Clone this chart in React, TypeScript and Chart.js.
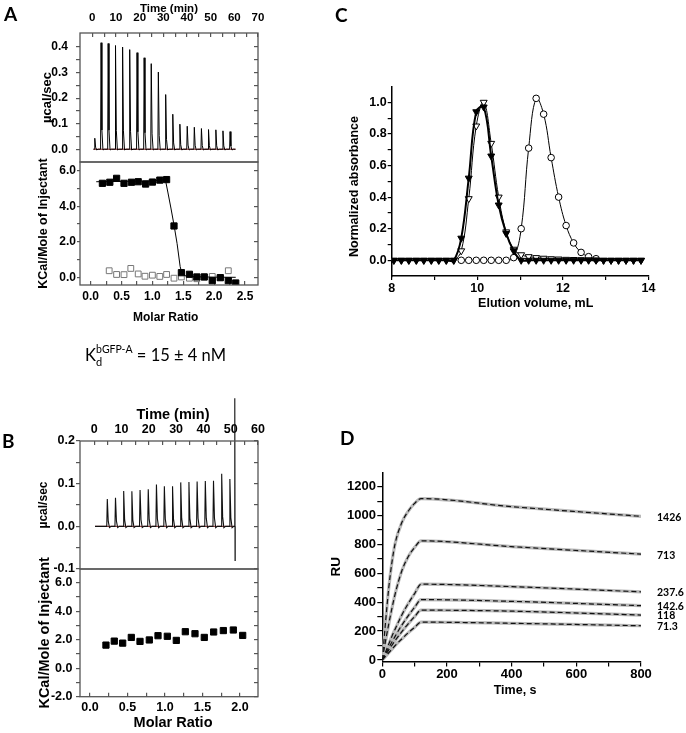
import React, { useEffect, useRef } from 'react';
import { Chart, registerables } from 'chart.js';

Chart.register(...registerables);

// ================= DATA =================
// Panel A – raw ITC trace (bGFP-A titration)
const aInjectionTime = [0.85, 3.5, 6.5, 9.6, 12.6, 15.6, 18.7, 21.7, 24.7, 27.7, 30.8, 33.8, 36.8, 39.9, 42.9, 45.9, 48.9, 52.0, 55.0, 58.0];
const aInjectionPeak = [0.043, 0.417, 0.414, 0.406, 0.4, 0.39, 0.378, 0.358, 0.335, 0.302, 0.214, 0.137, 0.098, 0.09, 0.086, 0.081, 0.077, 0.076, 0.072, 0.069];
const aTraceSpan = [0.5, 60.5];
const aTimeTicks = [0, 5, 10, 15, 20, 25, 30, 35, 40, 45, 50, 55, 60, 65, 70];
const aTimeLabels = [0, 10, 20, 30, 40, 50, 60, 70];
const aPowerTicks = [0, 0.05, 0.1, 0.15, 0.2, 0.25, 0.3, 0.35, 0.4];
const aPowerLabels = [0, 0.1, 0.2, 0.3, 0.4];

// Panel A – binding isotherm
const aRatio = [0.19, 0.31, 0.42, 0.54, 0.66, 0.77, 0.89, 1.0, 1.12, 1.23, 1.35, 1.47, 1.6, 1.72, 1.84, 1.97, 2.1, 2.23, 2.35];
const aHeat = [5.29, 5.35, 5.57, 5.29, 5.35, 5.38, 5.25, 5.36, 5.47, 5.5, 2.89, 0.26, 0.17, 0.02, 0.02, -0.19, -0.02, -0.19, -0.32];
const aControlRatio = [0.3, 0.42, 0.54, 0.65, 0.77, 0.88, 1.0, 1.12, 1.23, 1.35, 1.47, 1.6, 1.72, 1.84, 1.97, 2.1, 2.23];
const aControlHeat = [0.37, 0.16, 0.15, 0.5, 0.19, 0.06, 0.12, 0.05, 0.16, -0.05, 0.02, -0.05, -0.08, 0.02, 0.05, -0.02, 0.37];
const aFitRatio = [0.09, 0.6, 1.0, 1.15, 1.21, 1.25, 1.3, 1.35, 1.4, 1.45, 1.48, 1.55, 1.7, 2.0, 2.35];
const aFitHeat = [5.38, 5.4, 5.43, 5.47, 5.5, 4.8, 3.9, 2.95, 1.9, 0.6, 0.2, 0.06, 0.03, 0.01, 0.0];
const aRatioTicks = [0, 0.25, 0.5, 0.75, 1.0, 1.25, 1.5, 1.75, 2.0, 2.25, 2.5];
const aRatioLabels = [0, 0.5, 1.0, 1.5, 2.0, 2.5];
const aHeatTicks = [0, 1, 2, 3, 4, 5, 6];
const aHeatLabels = [0, 2, 4, 6];

// Panel B – raw ITC trace
const bInjectionTime = [4.6, 7.6, 10.6, 13.6, 16.6, 19.6, 22.6, 25.5, 28.5, 31.5, 34.5, 37.5, 40.5, 43.5, 46.5, 49.5];
const bInjectionPeak = [0.064, 0.067, 0.083, 0.082, 0.085, 0.087, 0.098, 0.094, 0.094, 0.103, 0.104, 0.105, 0.106, 0.107, 0.123, 0.111];
const bTraceSpan = [0.3, 51.45];
const bArtifactTime = [51.5, 51.6, 51.65];
const bArtifactValue = [0.3, -0.08, 0];
const bTimeTicks = [0, 5, 10, 15, 20, 25, 30, 35, 40, 45, 50, 55, 60];
const bTimeLabels = [0, 10, 20, 30, 40, 50, 60];
const bPowerTicks = [-0.1, -0.05, 0, 0.05, 0.1, 0.15, 0.2];
const bPowerLabels = [-0.1, 0, 0.1, 0.2];

// Panel B – isotherm
const bRatio = [0.213, 0.324, 0.436, 0.551, 0.667, 0.791, 0.907, 1.031, 1.151, 1.271, 1.4, 1.524, 1.649, 1.778, 1.911, 2.036];
const bHeat = [1.62, 1.9, 1.76, 2.16, 1.88, 1.98, 2.28, 2.24, 1.95, 2.56, 2.42, 2.16, 2.54, 2.64, 2.68, 2.3];
const bRatioTicks = [0, 0.25, 0.5, 0.75, 1.0, 1.25, 1.5, 1.75, 2.0];
const bRatioLabels = [0, 0.5, 1.0, 1.5, 2.0];
const bHeatTicks = [-2, -1, 0, 1, 2, 3, 4, 5, 6];
const bHeatLabels = [-2, 0, 2, 4, 6];

// Panel C – size exclusion chromatography
const cVolume = [8.05, 8.225, 8.4, 8.575, 8.75, 8.925, 9.1, 9.275, 9.45, 9.625, 9.8, 9.975, 10.15, 10.325, 10.5, 10.675, 10.85, 11.025, 11.2, 11.375, 11.55, 11.725, 11.9, 12.075, 12.25, 12.425, 12.6, 12.775, 12.95, 13.125, 13.3, 13.475, 13.65, 13.825];
const cComplex = [0, 0, 0, 0, 0, 0, 0, 0, 0, 0.14, 0.52, 0.94, 0.97, 0.66, 0.35, 0.17, 0.06, 0, 0, 0, 0, 0, 0, 0, 0, 0, 0, 0, 0, 0, 0, 0, 0, 0];
const cMixture = [0, 0, 0, 0, 0, 0, 0, 0, 0, 0.06, 0.39, 0.85, 1.0, 0.74, 0.4, 0.18, 0.07, 0.035, 0.023, 0.017, 0.013, 0.01, 0.008, 0.006, 0.005, 0.004, 0.003, 0.002, 0, 0, 0, 0, 0, 0];
const cFree: (number | null)[] = [null, null, null, null, null, null, null, null, null, 0, 0, 0, 0, 0, 0, 0, 0.017, 0.2, 0.71, 1.025, 0.925, 0.65, 0.4, 0.22, 0.11, 0.05, 0.023, 0.01, null, null, null, null, null, null];
const cVolumeTicks = [8, 9, 10, 11, 12, 13, 14];
const cVolumeLabels = [8, 10, 12, 14];
const cAbsTicks = [0, 0.1, 0.2, 0.3, 0.4, 0.5, 0.6, 0.7, 0.8, 0.9, 1.0];
const cAbsLabels = [0, 0.2, 0.4, 0.6, 0.8, 1.0];

// Panel D – SPR sensorgrams
const dTime = [0, 10, 20, 30, 40, 60, 80, 100, 120, 400, 800];
const dRU1426 = [0, 260, 500, 680, 810, 950, 1030, 1085, 1118, 1062, 995];
const dRU713 = [0, 130, 250, 360, 460, 615, 715, 780, 825, 785, 733];
const dRU237 = [0, 55, 110, 165, 215, 310, 390, 460, 525, 508, 472];
const dRU142 = [0, 43, 85, 125, 165, 240, 305, 365, 418, 406, 376];
const dRU118 = [0, 35, 70, 103, 135, 195, 250, 300, 345, 338, 311];
const dRU71 = [0, 25, 50, 75, 100, 145, 188, 226, 262, 254, 237];
const dConcLabels = ['1426', '713', '237.6', '142.6', '118', '71.3'];
const dTimeTicks = [0, 100, 200, 300, 400, 500, 600, 700, 800];
const dTimeLabels = [0, 200, 400, 600, 800];
const dRUTicks = [0, 100, 200, 300, 400, 500, 600, 700, 800, 900, 1000, 1100, 1200];
const dRULabels = [0, 200, 400, 600, 800, 1000, 1200];

// ================= HELPERS =================
const FONT = "'Liberation Sans', Arial, Helvetica, sans-serif";
const W = 686;
const H = 733;
const FRAME = '#555';

type AxisOpts = {
  position: 'top' | 'bottom' | 'left' | 'right';
  min: number;
  max: number;
  ticks: number[];
  labels: number[];
  digits: number;
  size: number;
  tickLength: number;
  padding: number;
  fontSize: number;
  color: string;
  border?: boolean;
  showLabels?: boolean;
  title?: string;
  titleSize?: number;
  titlePadding?: { top?: number; bottom?: number };
};

function linAxis(o: AxisOpts) {
  const horizontal = o.position === 'top' || o.position === 'bottom';
  return {
    type: 'linear',
    position: o.position,
    min: o.min,
    max: o.max,
    afterBuildTicks: (scale: any) => {
      scale.ticks = o.ticks.map((value) => ({ value }));
    },
    afterFit: (scale: any) => {
      if (horizontal) scale.height = o.size;
      else scale.width = o.size;
    },
    grid: { drawOnChartArea: false, drawTicks: true, tickLength: o.tickLength, color: o.color, lineWidth: 1.2 },
    border: { display: !!o.border, color: o.color, width: 1.5 },
    ticks: {
      display: o.showLabels !== false,
      autoSkip: false,
      maxRotation: 0,
      minRotation: 0,
      padding: o.padding,
      color: '#000',
      font: { family: FONT, size: o.fontSize, weight: 'bold' },
      callback: (v: any) =>
        o.labels.some((m) => Math.abs(m - Number(v)) < 1e-9) ? Number(v).toFixed(o.digits) : '',
    },
    title: o.title
      ? {
          display: true,
          text: o.title,
          color: '#000',
          font: { family: FONT, size: o.titleSize, weight: 'bold' },
          padding: o.titlePadding,
        }
      : { display: false },
  };
}

function baseOptions(padding: any, scales: any) {
  return {
    responsive: false,
    maintainAspectRatio: false,
    animation: false,
    events: [],
    layout: { padding },
    plugins: { legend: { display: false }, tooltip: { enabled: false } },
    scales,
  };
}

const framePlugin = (color: string, width: number) => ({
  id: 'frame',
  afterDatasetsDraw(chart: any) {
    const { ctx, chartArea: a } = chart;
    ctx.save();
    ctx.strokeStyle = color;
    ctx.lineWidth = width;
    ctx.strokeRect(a.left, a.top, a.right - a.left, a.bottom - a.top);
    ctx.restore();
  },
});

function itcTrace(span: number[], times: number[], peaks: number[]) {
  const pts: { x: number; y: number }[] = [{ x: span[0], y: 0 }];
  times.forEach((t, i) => {
    const h = peaks[i];
    pts.push(
      { x: t, y: 0 },
      { x: t + 0.2, y: h },
      { x: t + 0.55, y: h * 0.18 },
      { x: t + 1.0, y: -0.003 },
      { x: t + 1.6, y: 0 }
    );
  });
  pts.push({ x: span[1], y: 0 });
  return pts;
}

const xy = (xs: number[], ys: (number | null)[]) => xs.map((x, i) => ({ x, y: ys[i] }));

const rightTicks = (min: number, max: number, ticks: number[]) =>
  linAxis({ position: 'right', min, max, ticks, labels: [], digits: 0, size: 0, tickLength: -4, padding: 0, fontSize: 10, color: FRAME, showLabels: false });

const NO_CLIP = { left: false, top: false, right: false, bottom: false };

// ================= CHART BUILDERS =================
const buildATop = () => ({
  type: 'line',
  data: {
    datasets: [
      { data: itcTrace(aTraceSpan, aInjectionTime, aInjectionPeak), borderColor: '#000', borderWidth: 1, pointRadius: 0 },
      { data: xy(aTraceSpan, [0, 0]), borderColor: '#8b1a1a', borderWidth: 1, pointRadius: 0 },
    ],
  },
  options: baseOptions({ left: 0, top: 0, right: 428, bottom: 571 }, {
    x: linAxis({ position: 'top', min: -5.2, max: 70, ticks: aTimeTicks, labels: aTimeLabels, digits: 0, size: 33, tickLength: -4, padding: 12.1, fontSize: 11.5, color: FRAME, title: 'Time (min)', titleSize: 11.5, titlePadding: { top: 1.6, bottom: 0 } }),
    y: linAxis({ position: 'left', min: -0.05, max: 0.455, ticks: aPowerTicks, labels: aPowerLabels, digits: 1, size: 80, tickLength: 4, padding: 8, fontSize: 12, color: FRAME, title: 'µcal/sec', titleSize: 13, titlePadding: { top: 39.2, bottom: 0 } }),
    y2: rightTicks(-0.05, 0.455, aPowerTicks),
  }),
  plugins: [framePlugin(FRAME, 1.3)],
});

const buildABottom = () => ({
  type: 'line',
  data: {
    datasets: [
      { data: xy(aRatio, aHeat), showLine: false, pointStyle: 'rect', pointRadius: 4.4, pointBackgroundColor: '#000', pointBorderColor: '#000', pointBorderWidth: 1 },
      { data: xy(aFitRatio, aFitHeat), borderColor: '#000', borderWidth: 1, pointRadius: 0 },
      { data: xy(aControlRatio, aControlHeat), showLine: false, pointStyle: 'rect', pointRadius: 4.1, pointBackgroundColor: '#fff', pointBorderColor: '#777', pointBorderWidth: 1 },
    ],
  },
  options: baseOptions({ left: 0, top: 162, right: 428, bottom: 403 }, {
    x: linAxis({ position: 'bottom', min: -0.173, max: 2.711, ticks: aRatioTicks, labels: aRatioLabels, digits: 1, size: 45, tickLength: -4, padding: 8.5, fontSize: 12, color: FRAME, title: 'Molar Ratio  ', titleSize: 12, titlePadding: { top: 0, bottom: 4.8 } }),
    y: linAxis({ position: 'left', min: -0.433, max: 6.49, ticks: aHeatTicks, labels: aHeatLabels, digits: 1, size: 80, tickLength: 3, padding: 1, fontSize: 12, color: FRAME, title: 'KCal/Mole of Injectant', titleSize: 12.5, titlePadding: { top: 36.5, bottom: 0 } }),
    y2: rightTicks(-0.433, 6.49, aHeatTicks),
  }),
  plugins: [framePlugin(FRAME, 1.3)],
});

const buildBTop = () => ({
  type: 'line',
  data: {
    datasets: [
      {
        data: itcTrace(bTraceSpan, bInjectionTime, bInjectionPeak).concat(xy(bArtifactTime, bArtifactValue) as any),
        borderColor: '#111',
        borderWidth: 1.1,
        pointRadius: 0,
        clip: NO_CLIP,
      },
      { data: xy(bTraceSpan, [0, 0]), borderColor: '#8b1a1a', borderWidth: 1, pointRadius: 0 },
    ],
  },
  options: { ...baseOptions({ left: 0, top: 391, right: 428, bottom: 164 }, {
    x: linAxis({ position: 'top', min: -5.2, max: 60, ticks: bTimeTicks, labels: bTimeLabels, digits: 0, size: 50, tickLength: -4, padding: 7.5, fontSize: 12.5, color: FRAME, title: '  Time (min)', titleSize: 14.5, titlePadding: { top: 15.3, bottom: 0 } }),
    y: linAxis({ position: 'left', min: -0.1, max: 0.2, ticks: bPowerTicks, labels: bPowerLabels, digits: 1, size: 80, tickLength: 4, padding: 1, fontSize: 12.5, color: FRAME, title: 'µcal/sec', titleSize: 12, titlePadding: { top: 36.8, bottom: 0 } }),
    y2: rightTicks(-0.1, 0.2, bPowerTicks),
  }), clip: NO_CLIP },
  plugins: [framePlugin(FRAME, 1.3)],
});

const buildBBottom = () => ({
  type: 'line',
  data: {
    datasets: [
      { data: xy(bRatio, bHeat), showLine: false, pointStyle: 'rect', pointRadius: 4.4, pointBackgroundColor: '#000', pointBorderColor: '#000', pointBorderWidth: 1 },
    ],
  },
  options: baseOptions({ left: 0, top: 569, right: 428, bottom: 0 }, {
    x: linAxis({ position: 'bottom', min: -0.133, max: 2.24, ticks: bRatioTicks, labels: bRatioLabels, digits: 1, size: 36.3, tickLength: -4, padding: 7.1, fontSize: 12.5, color: FRAME, title: '  Molar Ratio', titleSize: 14.5, titlePadding: { top: 0, bottom: 1.3 } }),
    y: linAxis({ position: 'left', min: -2, max: 6.96, ticks: bHeatTicks, labels: bHeatLabels, digits: 1, size: 80, tickLength: 4, padding: 3.5, fontSize: 12.5, color: FRAME, title: 'KCal/Mole of Injectant', titleSize: 14.5, titlePadding: { top: 36.3, bottom: 0 } }),
    y2: rightTicks(-2, 6.96, bHeatTicks),
  }),
  plugins: [framePlugin(FRAME, 1.3)],
});

const buildC = () => ({
  type: 'line',
  data: {
    datasets: [
      { data: xy(cVolume, cComplex), borderColor: '#000', borderWidth: 2, tension: 0.4, pointStyle: 'triangle', pointRotation: 180, pointRadius: 4, pointBackgroundColor: '#000', pointBorderColor: '#000', pointBorderWidth: 1 },
      { data: xy(cVolume, cMixture), borderColor: '#000', borderWidth: 1, tension: 0.4, pointStyle: 'triangle', pointRotation: 180, pointRadius: 4, pointBackgroundColor: '#fff', pointBorderColor: '#000', pointBorderWidth: 1 },
      { data: xy(cVolume, cFree), borderColor: '#000', borderWidth: 1, tension: 0.4, pointStyle: 'circle', pointRadius: 3.3, pointBackgroundColor: '#fff', pointBorderColor: '#000', pointBorderWidth: 1 },
    ],
  },
  options: baseOptions({ left: 340, top: 86.5, right: 37.5, bottom: 416.9 }, {
    x: linAxis({ position: 'bottom', min: 8, max: 14, ticks: cVolumeTicks, labels: cVolumeLabels, digits: 0, size: 40, tickLength: 4, padding: 0.7, fontSize: 12.5, color: '#000', border: true, title: '         Elution volume, mL', titleSize: 12.5, titlePadding: { top: 0, bottom: 5.3 } }),
    y: linAxis({ position: 'left', min: -0.1, max: 1.1, ticks: cAbsTicks, labels: cAbsLabels, digits: 1, size: 51.7, tickLength: 4, padding: 1, fontSize: 12.5, color: '#000', border: true, title: 'Normalized absorbance   ', titleSize: 12.5, titlePadding: { top: 7.5, bottom: 0 } }),
  }),
});

const buildD = () => {
  const curves = [dRU1426, dRU713, dRU237, dRU142, dRU118, dRU71];
  const fits = curves.map((c) => ({ data: xy(dTime, c), borderColor: '#111', borderWidth: 1.2, borderDash: [5, 3], pointRadius: 0, cubicInterpolationMode: 'monotone' }));
  const raw = curves.map((c) => ({ data: xy(dTime, c), borderColor: '#b9b9b9', borderWidth: 3.2, pointRadius: 0, cubicInterpolationMode: 'monotone' }));
  const endLabels = {
    id: 'endLabels',
    afterDatasetsDraw(chart: any) {
      const { ctx, chartArea } = chart;
      ctx.save();
      ctx.font = "bold 10.5px Lato, 'Open Sans', sans-serif";
      ctx.fillStyle = '#000';
      ctx.textAlign = 'left';
      ctx.textBaseline = 'middle';
      dConcLabels.forEach((lab, i) => {
        const meta = chart.getDatasetMeta(i);
        const last = meta.data[meta.data.length - 1];
        ctx.fillText(lab, chartArea.right + 16, last.y + 1);
      });
      ctx.restore();
    },
  };
  return {
    type: 'line',
    data: { datasets: [...fits, ...raw] },
    options: baseOptions({ left: 325, top: 472.3, right: 45, bottom: 31.6 }, {
      x: linAxis({ position: 'bottom', min: 0, max: 800, ticks: dTimeTicks, labels: dTimeLabels, digits: 0, size: 40, tickLength: 5, padding: 0, fontSize: 13, color: '#000', border: true, title: '  Time, s', titleSize: 12.5, titlePadding: { top: 0, bottom: 3.2 } }),
      y: linAxis({ position: 'left', min: -10, max: 1300, ticks: dRUTicks, labels: dRULabels, digits: 0, size: 57.3, tickLength: 5, padding: 1.3, fontSize: 13, color: '#000', border: true, title: 'RU', titleSize: 13.5, titlePadding: { top: 3.6, bottom: 0 } }),
    }),
    plugins: [endLabels],
  };
};

// ================= COMPONENTS =================
function ChartLayer({ build }: { build: () => any }) {
  const ref = useRef<HTMLCanvasElement | null>(null);
  useEffect(() => {
    if (!ref.current) return;
    const chart = new Chart(ref.current, build());
    return () => chart.destroy();
  }, [build]);
  return (
    <canvas
      ref={ref}
      width={W}
      height={H}
      style={{ position: 'absolute', left: 0, top: 0, width: W, height: H }}
    />
  );
}

const letterStyle = (left: number, top: number): React.CSSProperties => ({
  position: 'absolute',
  left,
  top,
  fontFamily: 'Lato, sans-serif',
  fontWeight: 700,
  fontSize: 19,
  lineHeight: 1,
  color: '#000',
});

export default function App() {
  return (
    <div style={{ position: 'absolute', left: 0, top: 0, width: W, height: H, background: '#fff', overflow: 'hidden' }}>
      <ChartLayer build={buildATop} />
      <ChartLayer build={buildABottom} />
      <ChartLayer build={buildBTop} />
      <ChartLayer build={buildBBottom} />
      <ChartLayer build={buildC} />
      <ChartLayer build={buildD} />
      <div style={letterStyle(4, 4)}>A</div>
      <div style={letterStyle(2, 431)}>B</div>
      <div style={letterStyle(335, 5)}>C</div>
      <div style={letterStyle(340, 428)}>D</div>
      <div
        style={{
          position: 'absolute',
          left: 85,
          top: 347,
          fontFamily: 'Lato, sans-serif',
          fontSize: 16.5,
          lineHeight: 1,
          whiteSpace: 'nowrap',
          color: '#000',
        }}
      >
        K<span style={{ fontSize: 11, position: 'relative', top: 4.5 }}>d</span>
        <span style={{ fontSize: 10.5, position: 'relative', top: -8, marginLeft: -6 }}>bGFP-A</span>
        {' = 15 ± 4 nM'}
      </div>
    </div>
  );
}
